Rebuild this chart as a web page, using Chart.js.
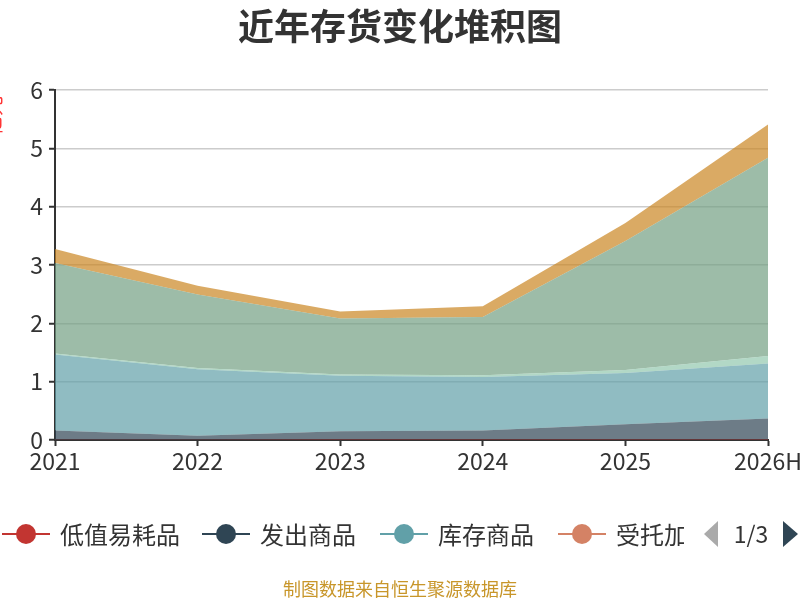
<!DOCTYPE html>
<html>
<head>
<meta charset="utf-8">
<script src="https://cdn.jsdelivr.net/npm/chart.js@4.4.1/dist/chart.umd.min.js"></script>
<style>
  html, body { margin: 0; padding: 0; background: #fff; }
  #wrap { position: relative; width: 800px; height: 600px; }
</style>
</head>
<body>
<div id="wrap"><canvas id="inventoryChart" width="800" height="600"></canvas></div>
<script>
const FONT = "'Noto Sans CJK SC', 'Noto Sans', sans-serif"

// categories
const years = ["2021", "2022", "2023", "2024", "2025", "2026H"]

// series values (亿元)
const lowValueItems = [0.005, 0.005, 0.01, 0.01, 0.01, 0.01]
const goodsShipped = [0.16, 0.07, 0.14, 0.155, 0.26, 0.36]
const finishedGoods = [1.30, 1.14, 0.95, 0.915, 0.88, 0.94]
const entrustedMaterials = [0, 0, 0, 0, 0, 0]
const consignedMaterials = [0.02, 0.02, 0.025, 0.03, 0.05, 0.13]
const rawMaterials = [1.55, 1.26, 0.96, 1.00, 2.21, 3.40]
const workInProgress = [0.24, 0.15, 0.12, 0.185, 0.31, 0.57]

const seriesNames = ["低值易耗品", "发出商品", "库存商品", "受托加工物资", "委托加工物资", "原材料", "在产品"]
const seriesData = [lowValueItems, goodsShipped, finishedGoods, entrustedMaterials, consignedMaterials, rawMaterials, workInProgress]
const yTicks = [0, 1, 2, 3, 4, 5, 6]

const PALETTE = ["#c23531", "#2f4554", "#61a0a8", "#d48265", "#91c7ae", "#749f83", "#ca8622"]

function withAlpha(hex, a) {
  const r = parseInt(hex.slice(1, 3), 16)
  const g = parseInt(hex.slice(3, 5), 16)
  const b = parseInt(hex.slice(5, 7), 16)
  return `rgba(${r}, ${g}, ${b}, ${a})`
}

const datasets = seriesNames.map((name, i) => ({
  label: name,
  data: seriesData[i],
  fill: i === 0 ? "origin" : "-1",
  backgroundColor: withAlpha(PALETTE[i], 0.7),
  borderColor: PALETTE[i],
  borderWidth: 0,
  pointRadius: 0,
  tension: 0,
}))

// title, axis name, legend with pager, footer
const decorations = {
  id: "decorations",
  afterDraw(chart) {
    const ctx = chart.ctx
    ctx.save()
    ctx.textBaseline = "middle"

    ctx.fillStyle = "#333"
    ctx.font = `bold 36px ${FONT}`
    ctx.textAlign = "center"
    ctx.fillText("近年存货变化堆积图", 400, 26)

    // y axis name, mostly outside the canvas
    ctx.save()
    ctx.translate(-7, 116)
    ctx.rotate(-Math.PI / 2)
    ctx.fillStyle = "#ff3333"
    ctx.font = `20px ${FONT}`
    ctx.fillText("亿元", 0, 0)
    ctx.restore()

    // legend page 1
    const legendY = 534
    const itemX = [2, 202, 380, 558]
    ctx.save()
    ctx.beginPath()
    ctx.rect(0, 500, 684, 60)
    ctx.clip()
    ctx.font = `24px ${FONT}`
    ctx.textAlign = "left"
    for (let i = 0; i < 4; i++) {
      const ds = chart.data.datasets[i]
      const x = itemX[i]
      ctx.strokeStyle = ds.borderColor
      ctx.lineWidth = 2
      ctx.beginPath()
      ctx.moveTo(x, legendY)
      ctx.lineTo(x + 48, legendY)
      ctx.stroke()
      ctx.fillStyle = ds.borderColor
      ctx.beginPath()
      ctx.arc(x + 24, legendY, 10, 0, Math.PI * 2)
      ctx.fill()
      ctx.fillStyle = "#333"
      ctx.fillText(ds.label, x + 58, legendY + 1)
    }
    ctx.restore()

    // pager
    ctx.fillStyle = "#aaa"
    ctx.beginPath()
    ctx.moveTo(704, legendY)
    ctx.lineTo(718, legendY - 13)
    ctx.lineTo(718, legendY + 13)
    ctx.closePath()
    ctx.fill()
    ctx.fillStyle = "#333"
    ctx.font = `23px ${FONT}`
    ctx.textAlign = "center"
    ctx.fillText("1/3", 751, legendY)
    ctx.fillStyle = "#2f4554"
    ctx.beginPath()
    ctx.moveTo(798, legendY)
    ctx.lineTo(783, legendY - 13)
    ctx.lineTo(783, legendY + 13)
    ctx.closePath()
    ctx.fill()

    ctx.fillStyle = "#c8962a"
    ctx.font = `18px ${FONT}`
    ctx.fillText("制图数据来自恒生聚源数据库", 400, 589)
    ctx.restore()
  },
}

const config = {
  type: "line",
  data: { labels: years, datasets: datasets },
  options: {
    responsive: false,
    animation: false,
    devicePixelRatio: 1,
    layout: { padding: { top: 90, right: 32, left: 0, bottom: 0 } },
    plugins: {
      legend: { display: false },
      title: { display: false },
      tooltip: { enabled: false },
    },
    scales: {
      x: {
        afterFit(scale) {
          scale.height = 160
          scale.paddingLeft = 0
          scale.paddingRight = 0
        },
        grid: { drawOnChartArea: false, drawTicks: true, tickLength: 6, tickColor: "#333", tickWidth: 2 },
        border: { color: "#333", width: 2 },
        ticks: { color: "#333", font: { family: FONT, size: 23 }, maxRotation: 0, autoSkip: false, padding: 1 },
      },
      y: {
        stacked: true,
        min: 0,
        max: 6,
        afterFit(scale) { scale.width = 55 },
        afterBuildTicks(scale) { scale.ticks = yTicks.map(v => ({ value: v })) },
        grid: { color: "#cccccc", lineWidth: 1.5, tickLength: 6, tickColor: "#333", tickWidth: 2 },
        border: { color: "#333", width: 2 },
        ticks: { color: "#333", font: { family: FONT, size: 23 }, padding: 6 },
      },
    },
  },
  plugins: [decorations],
}

new Chart(document.getElementById("inventoryChart"), config)
</script>
</body>
</html>
